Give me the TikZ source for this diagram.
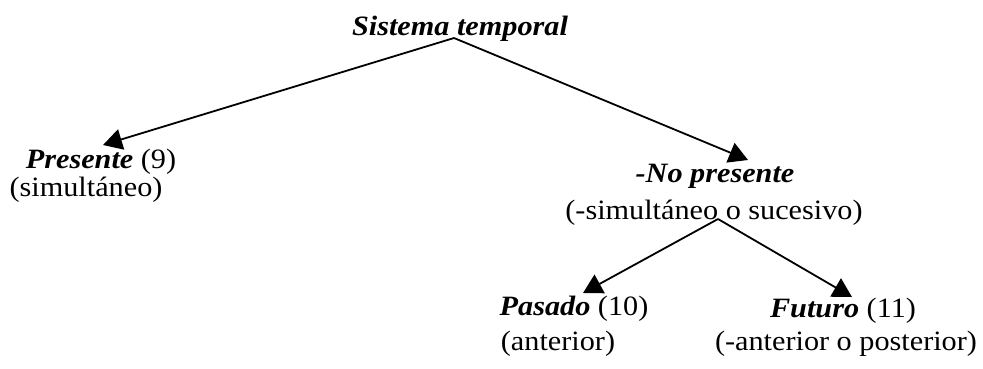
\documentclass[tikz,border=0pt]{standalone}
\usepackage{fontspec}
\setmainfont{Liberation Serif}[FakeStretch=1.08]
\usetikzlibrary{arrows.meta}
\begin{document}
\begin{tikzpicture}[x=1pt,y=-1pt,
  lbl/.style={anchor=base,inner sep=0pt,font=\fontsize{28}{33}\selectfont},
  branch/.style={line width=1.8pt,-{Triangle[length=19pt,width=21pt]}}]
\useasboundingbox (0,0) rectangle (983,368);
% node texts
\node[lbl] (sist) at (460,35) {\textbf{\textit{Sistema temporal}}};
\node[lbl] (pres) at (101,168) {\textbf{\textit{Presente}} (9)};
\node[lbl] (simul) at (86,196) {(simultáneo)};
\node[lbl] (nopres) at (715,182) {\textbf{\textit{-No presente}}};
\node[lbl] (nosimul) at (714,219) {(-simultáneo o sucesivo)};
\node[lbl] (pas) at (574,315) {\textbf{\textit{Pasado}} (10)};
\node[lbl] (ant) at (558,350) {(anterior)};
\node[lbl] (fut) at (843,317) {\textbf{\textit{Futuro}} (11)};
\node[lbl] (noant) at (846,350) {(-anterior o posterior)};
% branching points and arrow tips
\coordinate (topfork) at (454,38);
\coordinate (lowfork) at (718,219);
\coordinate (tipPres) at (103,145);
\coordinate (tipNo) at (748,160);
\coordinate (tipPas) at (583,293);
\coordinate (tipFut) at (852,297);
% branches
\draw[branch] (topfork) -- (tipPres);
\draw[branch] (topfork) -- (tipNo);
\draw[branch] (lowfork) -- (tipPas);
\draw[branch] (lowfork) -- (tipFut);
\end{tikzpicture}
\end{document}
